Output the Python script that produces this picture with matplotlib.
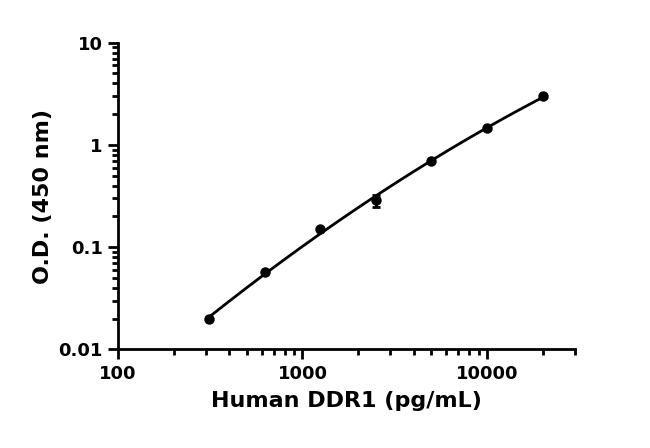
import numpy as np
import matplotlib
matplotlib.use("Agg")
import matplotlib.pyplot as plt
from matplotlib.ticker import LogLocator, FixedLocator, NullFormatter

# standard concentrations and mean O.D.
conc = [312.5, 625, 1250, 2500, 5000, 10000, 20000]
od = [0.0197, 0.0574, 0.149, 0.287, 0.70, 1.45, 2.99]
od_err = [0.0, 0.0, 0.0, 0.04, 0.0, 0.0, 0.0]

x_ticks = [100, 1000, 10000]
x_ticklabels = ["100", "1000", "10000"]
y_ticks = [0.01, 0.1, 1, 10]
y_ticklabels = ["0.01", "0.1", "1", "10"]

plt.rcParams["font.family"] = "DejaVu Sans"
plt.rcParams["font.weight"] = "bold"

fig = plt.figure(figsize=(6.5, 4.48), dpi=100)
ax = fig.add_axes([0.1815, 0.2203, 0.7031, 0.6844])

# smooth fitted curve in log-log space
lx = np.log10(conc)
ly = np.log10(od)
coef = np.polyfit(lx, ly, 2)
xs = np.linspace(lx[0], lx[-1], 200)
ax.plot(10 ** xs, 10 ** np.polyval(coef, xs), color="black", lw=2)

ax.errorbar(conc, od, yerr=od_err, fmt="o", color="black", ms=6.5,
            elinewidth=2, capsize=3, capthick=2)

ax.set_xscale("log")
ax.set_yscale("log")
ax.set_xlim(100, 30000)
ax.set_ylim(0.01, 10)

ax.xaxis.set_major_locator(FixedLocator(x_ticks))
ax.set_xticklabels(x_ticklabels)
ax.xaxis.set_minor_locator(LogLocator(base=10, subs=np.arange(2, 10)))
ax.xaxis.set_minor_formatter(NullFormatter())
ax.yaxis.set_major_locator(FixedLocator(y_ticks))
ax.set_yticklabels(y_ticklabels)
ax.yaxis.set_minor_locator(LogLocator(base=10, subs=np.arange(2, 10)))
ax.yaxis.set_minor_formatter(NullFormatter())

for s in ["top", "right"]:
    ax.spines[s].set_visible(False)
for s in ["left", "bottom"]:
    ax.spines[s].set_linewidth(2)

ax.tick_params(which="major", length=7, width=2, labelsize=13, pad=4)
ax.tick_params(which="minor", length=4, width=2)

ax.set_xlabel("Human DDR1 (pg/mL)", fontsize=16, fontweight="bold", labelpad=6)
ax.set_ylabel("O.D. (450 nm)", fontsize=16, fontweight="bold", labelpad=4)

fig.savefig("out.png", dpi=100)
